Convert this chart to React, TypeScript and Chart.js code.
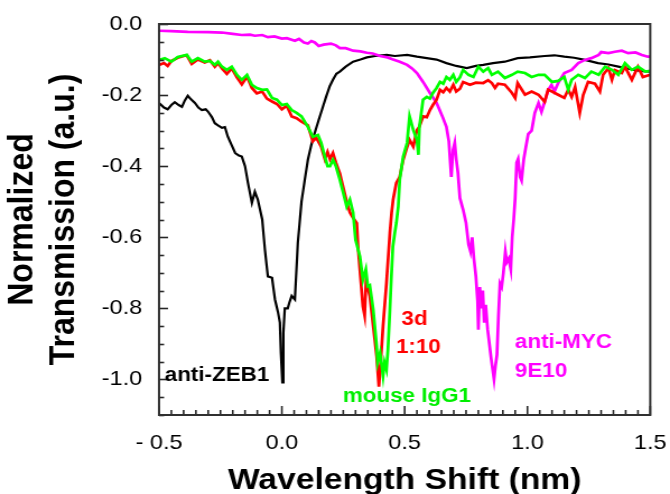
import React, { useEffect, useRef } from 'react';
import { Chart, registerables } from 'chart.js';

Chart.register(...registerables);

// ---- Data ----
const zebX = [-0.5,-0.48,-0.465,-0.45,-0.436,-0.42,-0.407,-0.395,-0.383,-0.37,-0.354,-0.34,-0.326,-0.31,-0.3,-0.285,-0.273,-0.26,-0.244,-0.232,-0.22,-0.205,-0.19,-0.175,-0.163,-0.15,-0.138,-0.122,-0.11,-0.098,-0.08,-0.069,-0.057,-0.04,-0.028,-0.016,-0.008,-0.004,0.002,0.006,0.012,0.024,0.03,0.04,0.053,0.065,0.08,0.093,0.106,0.12,0.134,0.15,0.163,0.18,0.195,0.208,0.222,0.236,0.26,0.29,0.32,0.346,0.38,0.427,0.46,0.51,0.55,0.59,0.63,0.67,0.71,0.753,0.79,0.82,0.86,0.908,0.96,1.01,1.07,1.11,1.15,1.19,1.234,1.287,1.33,1.37,1.41,1.44,1.47,1.5];
const zebY = [-0.222,-0.235,-0.24,-0.228,-0.22,-0.228,-0.233,-0.215,-0.202,-0.212,-0.222,-0.235,-0.242,-0.24,-0.247,-0.262,-0.279,-0.285,-0.292,-0.29,-0.317,-0.34,-0.363,-0.37,-0.373,-0.4,-0.447,-0.503,-0.472,-0.494,-0.55,-0.635,-0.71,-0.714,-0.775,-0.81,-0.84,-0.925,-1.008,-0.87,-0.8,-0.8,-0.785,-0.765,-0.775,-0.616,-0.5,-0.44,-0.382,-0.34,-0.306,-0.27,-0.242,-0.205,-0.175,-0.157,-0.14,-0.134,-0.12,-0.106,-0.1,-0.094,-0.09,-0.087,-0.09,-0.087,-0.092,-0.096,-0.1,-0.11,-0.118,-0.124,-0.118,-0.115,-0.11,-0.106,-0.096,-0.094,-0.09,-0.088,-0.092,-0.095,-0.101,-0.11,-0.114,-0.12,-0.126,-0.13,-0.133,-0.134];

const mycX = [-0.5,-0.45,-0.383,-0.3,-0.244,-0.2,-0.163,-0.13,-0.11,-0.08,-0.057,-0.03,0.0,0.02,0.053,0.07,0.09,0.106,0.12,0.134,0.15,0.17,0.2,0.22,0.236,0.26,0.29,0.32,0.346,0.37,0.4,0.43,0.45,0.48,0.51,0.53,0.55,0.575,0.603,0.63,0.656,0.67,0.68,0.685,0.69,0.697,0.704,0.71,0.717,0.725,0.738,0.75,0.76,0.768,0.775,0.782,0.79,0.797,0.8,0.806,0.812,0.818,0.824,0.83,0.838,0.845,0.852,0.858,0.864,0.87,0.876,0.882,0.888,0.895,0.902,0.91,0.916,0.924,0.932,0.938,0.944,0.95,0.956,0.962,0.97,0.976,0.985,0.99,1.003,1.017,1.03,1.045,1.057,1.07,1.085,1.098,1.11,1.125,1.15,1.18,1.207,1.234,1.26,1.29,1.3,1.33,1.356,1.384,1.41,1.44,1.466,1.49,1.5];
const mycY = [-0.019,-0.02,-0.022,-0.023,-0.024,-0.028,-0.031,-0.03,-0.033,-0.031,-0.037,-0.035,-0.041,-0.04,-0.047,-0.042,-0.052,-0.055,-0.048,-0.052,-0.062,-0.058,-0.055,-0.06,-0.068,-0.068,-0.075,-0.077,-0.081,-0.083,-0.09,-0.094,-0.099,-0.106,-0.115,-0.125,-0.138,-0.163,-0.194,-0.222,-0.264,-0.289,-0.33,-0.382,-0.43,-0.354,-0.334,-0.38,-0.419,-0.49,-0.522,-0.56,-0.62,-0.64,-0.6,-0.66,-0.71,-0.78,-0.86,-0.74,-0.8,-0.75,-0.84,-0.79,-0.86,-0.9,-0.94,-0.97,-1.0,-0.96,-0.93,-0.82,-0.73,-0.74,-0.7,-0.64,-0.67,-0.66,-0.69,-0.6,-0.55,-0.49,-0.39,-0.38,-0.43,-0.44,-0.38,-0.36,-0.31,-0.3,-0.25,-0.222,-0.247,-0.219,-0.185,-0.171,-0.19,-0.166,-0.138,-0.129,-0.11,-0.101,-0.096,-0.087,-0.079,-0.082,-0.078,-0.075,-0.082,-0.08,-0.087,-0.092,-0.092];

const iggX = [-0.5,-0.477,-0.45,-0.424,-0.387,-0.367,-0.342,-0.314,-0.293,-0.273,-0.26,-0.244,-0.224,-0.204,-0.183,-0.163,-0.142,-0.122,-0.102,-0.08,-0.061,-0.04,-0.02,0.0,0.02,0.04,0.06,0.08,0.106,0.126,0.147,0.16,0.175,0.186,0.196,0.208,0.22,0.236,0.25,0.264,0.277,0.29,0.3,0.318,0.33,0.342,0.35,0.358,0.372,0.386,0.39,0.4,0.412,0.418,0.426,0.432,0.44,0.446,0.452,0.46,0.466,0.474,0.48,0.494,0.51,0.52,0.535,0.55,0.556,0.56,0.575,0.59,0.603,0.615,0.63,0.644,0.657,0.67,0.684,0.698,0.71,0.725,0.738,0.76,0.78,0.8,0.82,0.84,0.855,0.88,0.908,0.937,0.96,0.99,1.017,1.045,1.07,1.1,1.125,1.15,1.166,1.18,1.207,1.234,1.26,1.29,1.316,1.344,1.37,1.397,1.425,1.45,1.48,1.5];
const iggY = [-0.101,-0.096,-0.106,-0.093,-0.087,-0.106,-0.096,-0.106,-0.104,-0.115,-0.106,-0.12,-0.129,-0.12,-0.143,-0.157,-0.143,-0.171,-0.18,-0.185,-0.184,-0.208,-0.213,-0.228,-0.225,-0.242,-0.25,-0.26,-0.289,-0.317,-0.312,-0.334,-0.373,-0.4,-0.4,-0.382,-0.4,-0.438,-0.475,-0.514,-0.494,-0.53,-0.607,-0.654,-0.72,-0.69,-0.738,-0.735,-0.803,-0.907,-0.952,-0.925,-0.99,-0.952,-0.972,-0.916,-0.803,-0.71,-0.626,-0.587,-0.56,-0.514,-0.438,-0.373,-0.334,-0.26,-0.298,-0.326,-0.368,-0.289,-0.213,-0.205,-0.21,-0.194,-0.18,-0.163,-0.168,-0.149,-0.157,-0.143,-0.163,-0.15,-0.129,-0.143,-0.149,-0.12,-0.134,-0.124,-0.143,-0.134,-0.152,-0.143,-0.134,-0.138,-0.149,-0.143,-0.143,-0.163,-0.16,-0.149,-0.185,-0.157,-0.143,-0.152,-0.134,-0.143,-0.12,-0.129,-0.143,-0.11,-0.129,-0.12,-0.134,-0.132];

const d3X = [-0.5,-0.48,-0.465,-0.45,-0.424,-0.4,-0.387,-0.367,-0.342,-0.314,-0.293,-0.273,-0.26,-0.244,-0.224,-0.204,-0.183,-0.163,-0.142,-0.122,-0.102,-0.08,-0.061,-0.04,-0.02,0.0,0.02,0.04,0.06,0.08,0.106,0.126,0.14,0.16,0.175,0.186,0.196,0.208,0.22,0.236,0.25,0.264,0.277,0.29,0.305,0.31,0.322,0.33,0.337,0.343,0.358,0.372,0.386,0.395,0.403,0.412,0.426,0.44,0.447,0.453,0.466,0.48,0.494,0.51,0.52,0.535,0.55,0.56,0.575,0.59,0.603,0.615,0.63,0.644,0.657,0.67,0.684,0.698,0.71,0.725,0.738,0.766,0.79,0.82,0.84,0.855,0.868,0.88,0.908,0.937,0.95,0.96,0.99,1.017,1.045,1.07,1.084,1.1,1.125,1.15,1.166,1.18,1.194,1.213,1.227,1.247,1.275,1.295,1.308,1.33,1.344,1.356,1.384,1.397,1.425,1.45,1.47,1.5];
const d3Y = [-0.115,-0.11,-0.118,-0.104,-0.095,-0.09,-0.088,-0.112,-0.1,-0.108,-0.102,-0.12,-0.11,-0.125,-0.14,-0.125,-0.15,-0.17,-0.148,-0.18,-0.195,-0.19,-0.21,-0.218,-0.225,-0.24,-0.23,-0.26,-0.265,-0.275,-0.285,-0.33,-0.32,-0.345,-0.38,-0.36,-0.38,-0.363,-0.39,-0.42,-0.46,-0.5,-0.53,-0.545,-0.56,-0.626,-0.728,-0.794,-0.82,-0.72,-0.765,-0.85,-0.935,-1.02,-0.944,-0.85,-0.728,-0.587,-0.53,-0.494,-0.447,-0.43,-0.382,-0.346,-0.326,-0.345,-0.298,-0.289,-0.26,-0.262,-0.242,-0.228,-0.213,-0.185,-0.192,-0.18,-0.19,-0.171,-0.19,-0.182,-0.163,-0.171,-0.165,-0.166,-0.158,-0.166,-0.18,-0.168,-0.171,-0.194,-0.208,-0.166,-0.199,-0.19,-0.199,-0.219,-0.185,-0.19,-0.199,-0.208,-0.185,-0.205,-0.177,-0.25,-0.2,-0.163,-0.168,-0.19,-0.143,-0.124,-0.157,-0.13,-0.138,-0.12,-0.157,-0.12,-0.149,-0.143];

const X_MIN = -0.5;
const X_MAX = 1.5;
const Y_MIN = -1.1;
const Y_MAX = 0.0;

const LABELS = [
  { text: 'anti-ZEB1', x: -0.477, y: -0.99, color: '#000000', align: 'left' },
  { text: '3d', x: 0.54, y: -0.83, color: '#ff0000', align: 'center' },
  { text: '1:10', x: 0.556, y: -0.91, color: '#ff0000', align: 'center' },
  { text: 'mouse IgG1', x: 0.248, y: -1.048, color: '#00ee00', align: 'left' },
  { text: 'anti-MYC', x: 0.949, y: -0.896, color: '#ff00ff', align: 'left' },
  { text: '9E10', x: 0.949, y: -0.978, color: '#ff00ff', align: 'left' },
];

const FONT = "'Liberation Sans', Arial, sans-serif";

// The reference figure is horizontally stretched; draw on a narrower canvas and stretch it.
const STRETCH = 1.12;
const OUT_W = 670;
const OUT_H = 494;
const CW = Math.round(OUT_W / STRETCH);
const AREA_LEFT = 159 / STRETCH;
const AREA_RIGHT = 650 / STRETCH;

function pts(xs: number[], ys: number[]) {
  return xs.map((x, i) => ({ x, y: ys[i] }));
}

const framePlugin = {
  id: 'frameTicks',
  afterDraw(chart: any) {
    const { ctx, chartArea } = chart;
    const xs = chart.scales.x;
    const ys = chart.scales.y;
    const L = chartArea.left;
    const R = chartArea.right;
    const T = chartArea.top;
    const B = chartArea.bottom;
    ctx.save();
    ctx.strokeStyle = '#262626';
    ctx.lineWidth = 1.6;
    for (let i = 0; i <= 40; i++) {
      const v = X_MIN + i * 0.05;
      const px = xs.getPixelForValue(v);
      const len = i % 10 === 0 ? 9 : 5;
      ctx.beginPath();
      ctx.moveTo(px, B);
      ctx.lineTo(px, B - len);
      ctx.stroke();
    }
    for (let i = 0; i <= 22; i++) {
      const v = -i * 0.05;
      const py = Math.round(ys.getPixelForValue(v)) + 0.5;
      const len = i % 4 === 0 ? 8 : 4.5;
      ctx.beginPath();
      ctx.moveTo(L, py);
      ctx.lineTo(L + len, py);
      ctx.stroke();
    }
    ctx.lineWidth = 2;
    ctx.strokeStyle = '#303030';
    ctx.beginPath();
    ctx.moveTo(L, T);
    ctx.lineTo(R, T);
    ctx.lineTo(R, B);
    ctx.lineTo(L, B);
    ctx.closePath();
    ctx.stroke();
    ctx.font = `bold 20px ${FONT}`;
    ctx.textBaseline = 'middle';
    for (const l of LABELS) {
      ctx.fillStyle = l.color;
      ctx.textAlign = l.align as CanvasTextAlign;
      ctx.fillText(l.text, xs.getPixelForValue(l.x), ys.getPixelForValue(l.y));
    }
    ctx.restore();
  },
};

export default function App() {
  const ref = useRef<HTMLCanvasElement | null>(null);
  useEffect(() => {
    if (!ref.current) return;
    const ds = (label: string, data: any[], color: string, w: number) => ({
      label,
      data,
      borderColor: color,
      backgroundColor: color,
      borderWidth: w,
      pointRadius: 0,
      tension: 0,
      fill: false,
    });
    const chart = new Chart(ref.current, {
      type: 'line',
      data: {
        datasets: [
          ds('mouse IgG1', pts(iggX, iggY), '#00ff00', 2.7),
          ds('3d 1:10', pts(d3X, d3Y), '#ff0000', 2.7),
          ds('anti-MYC 9E10', pts(mycX, mycY), '#ff00ff', 2.7),
          ds('anti-ZEB1', pts(zebX, zebY), '#000000', 2.2),
        ],
      },
      options: {
        animation: false,
        responsive: false,
        devicePixelRatio: 1,
        parsing: false as any,
        layout: { padding: { left: 0, right: CW - AREA_RIGHT, top: 24, bottom: 0 } },
        plugins: { legend: { display: false }, tooltip: { enabled: false } },
        scales: {
          x: {
            type: 'linear',
            min: X_MIN,
            max: X_MAX,
            grid: { display: false, drawTicks: false },
            border: { display: false },
            afterFit: (s: any) => { s.height = 79; s.paddingLeft = 0; s.paddingRight = 0; },
            ticks: {
              stepSize: 0.5,
              padding: 16,
              color: '#000',
              font: { family: FONT, size: 21 },
              maxRotation: 0,
              callback: (v: any) => {
                const n = Number(v);
                if (Math.abs(n + 0.5) < 1e-6) return '- 0.5';
                return n.toFixed(1);
              },
            },
            title: {
              display: true,
              text: 'Wavelength Shift (nm)',
              color: '#000',
              font: { family: FONT, size: 30, weight: 'bold', lineHeight: 1 },
              padding: { top: 0, bottom: -2 },
            },
          },
          y: {
            type: 'linear',
            min: Y_MIN,
            max: Y_MAX,
            grid: { display: false, drawTicks: false },
            border: { display: false },
            afterFit: (s: any) => { s.width = AREA_LEFT; s.paddingTop = 0; s.paddingBottom = 0; },
            ticks: {
              stepSize: 0.2,
              padding: 15,
              color: '#000',
              font: { family: FONT, size: 21 },
              callback: (v: any) => {
                const n = Number(v);
                if (Math.abs(n * 5 - Math.round(n * 5)) > 1e-6) return '';
                if (Math.abs(n) < 1e-9) return '0.0';
                return n.toFixed(1);
              },
            },
            title: {
              display: true,
              text: ['Normalized', 'Transmission (a.u.)'],
              color: '#000',
              font: { family: FONT, size: 32, weight: 'bold', lineHeight: 1.144 },
              padding: { top: 2.2, bottom: 0 },
            },
          },
        },
      },
      plugins: [framePlugin],
    });
    return () => chart.destroy();
  }, []);
  return (
    <div style={{ position: 'fixed', left: 0, top: 0, width: OUT_W, height: OUT_H, background: '#fff', overflow: 'hidden' }}>
      <canvas
        ref={ref}
        width={CW}
        height={OUT_H}
        style={{ width: OUT_W + 'px', height: OUT_H + 'px', display: 'block' }}
      />
    </div>
  );
}
